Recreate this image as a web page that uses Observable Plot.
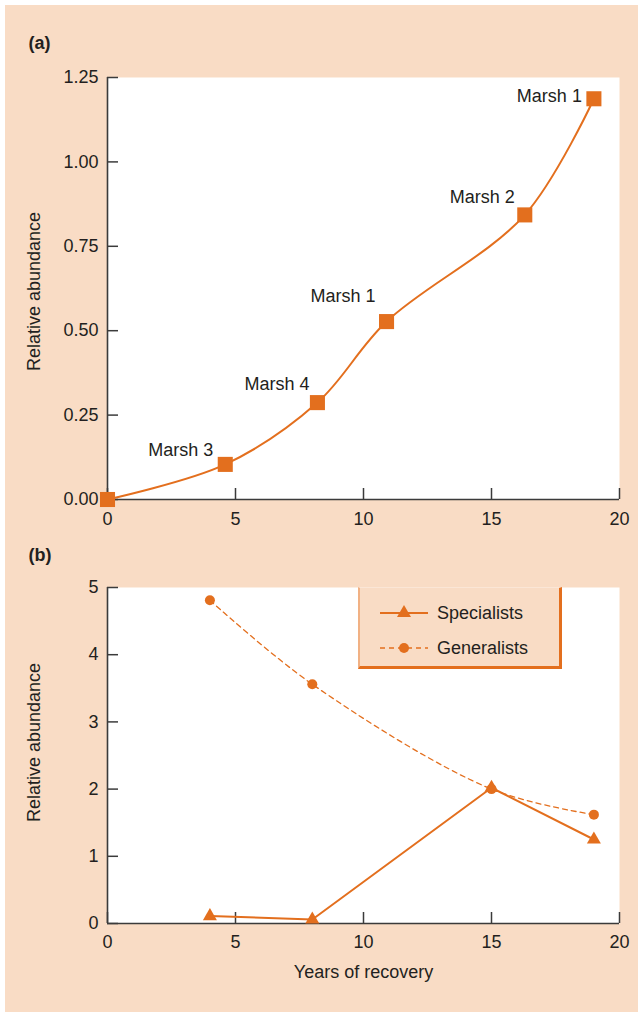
<!DOCTYPE html>
<html>
<head>
<meta charset="utf-8">
<script src="https://cdn.jsdelivr.net/npm/d3@7"></script>
<script src="https://cdn.jsdelivr.net/npm/@observablehq/plot@0.6"></script>
<style>
  body { margin: 0; background: #ffffff; }
  #page { position: relative; width: 638px; height: 1012px; overflow: hidden;
          font-family: "Liberation Sans", Arial, Helvetica, sans-serif; color: #231f20; }
  #bg { position: absolute; left: 5px; top: 5px; right: 0; bottom: 0; background: #f9dcc5; }
  .panel { position: absolute; left: 0; }
  #legend { position: absolute; left: 358px; top: 587px; width: 199px; height: 78px;
            background: #f9dcc5; border-left: 2px solid #f1b184; border-top: 1px solid #fbe6d6;
            border-right: 3px solid #e36f1e; border-bottom: 3px solid #e36f1e; box-sizing: content-box; }
  #legend svg { position: absolute; left: 0; top: 0; }
</style>
</head>
<body>
<div id="page">
  <div id="bg"></div>
  <div id="a" class="panel" style="top:0px"></div>
  <div id="b" class="panel" style="top:540px"></div>
  <div id="legend"></div>
</div>
<script>
// ---------- DATA ----------
// Panel (a): relative abundance of marshes along years of recovery
const marshYears = [0, 4.6, 8.2, 10.9, 16.3, 19.0];
const marshAbundance = [0, 0.104, 0.287, 0.527, 0.843, 1.187];
const marshNames = ["", "Marsh 3", "Marsh 4", "Marsh 1", "Marsh 2", "Marsh 1"];
const xTicks = [0, 5, 10, 15, 20];
const yTicksA = [0, 0.25, 0.5, 0.75, 1.0, 1.25];

// Panel (b): specialists vs generalists
const recoveryYears = [4, 8, 15, 19];
const specialists = [0.11, 0.06, 2.02, 1.25];
const generalists = [4.81, 3.56, 2.0, 1.62];
const yTicksB = [0, 1, 2, 3, 4, 5];
const seriesNames = ["Specialists", "Generalists"];

const xLabel = "Years of recovery";
const yLabel = "Relative abundance";
const panelLetters = ["(a)", "(b)"];

// ---------- STYLE ----------
const FONT = '"Liberation Sans", Arial, Helvetica, sans-serif';
const TEXT = "#231f20";
const AXIS = "#3b3b3b";
const ORANGE = "#e36f1e";

const common = {
  width: 638,
  marginLeft: 107,
  marginRight: 19,
  style: { background: "transparent", fontSize: "18px", fontFamily: FONT, color: TEXT, overflow: "visible" }
};

function axes(yTicks, yFmt, xPad) {
  return [
    Plot.frame({ fill: "white", stroke: "none" }),
    Plot.axisX({ ticks: xTicks, tickSize: 11, dy: -11, fill: "none", stroke: AXIS, strokeWidth: 1.5, label: null }),
    Plot.axisX({ ticks: xTicks, tickSize: 0, tickPadding: xPad, fill: TEXT, label: null, tickFormat: d => String(d), fontSize: 18 }),
    Plot.axisY({ ticks: yTicks, tickSize: 11, dx: 11, fill: "none", stroke: AXIS, strokeWidth: 1.5, label: null }),
    Plot.axisY({ ticks: yTicks, tickSize: 0, tickPadding: 9, fill: TEXT, label: null, tickFormat: yFmt, fontSize: 18 }),
    Plot.ruleX([0], { stroke: AXIS, strokeWidth: 1.6 }),
    Plot.ruleY([0], { stroke: AXIS, strokeWidth: 1.6 })
  ];
}

// ---------- PANEL A ----------
const idxA = d3.range(marshYears.length);
// label placement (layout only): offsets relative to each square
const labelDx = [0, -12, -8, -11, -10, -12];
const labelDy = [0, -14, -18, -25, -18, -3];
const labelMarks = idxA.filter(i => marshNames[i]).map(i =>
  Plot.text([i], { x: j => marshYears[j], y: j => marshAbundance[j], text: j => marshNames[j],
    textAnchor: "end", dx: labelDx[i], dy: labelDy[i], fontSize: 18, fill: TEXT })
);

const plotA = Plot.plot({
  ...common,
  height: 540,
  marginTop: 77,
  marginBottom: 41,
  x: { domain: [0, 20] },
  y: { domain: [0, 1.25] },
  marks: [
    ...axes(yTicksA, d3.format(".2f"), 13),
    Plot.line(idxA, { x: i => marshYears[i], y: i => marshAbundance[i], curve: "catmull-rom", stroke: ORANGE, strokeWidth: 2 }),
    Plot.dot(idxA, { x: i => marshYears[i], y: i => marshAbundance[i], symbol: "square", r: 8.5, fill: ORANGE, stroke: "none" }),
    ...labelMarks,
    Plot.text([yLabel], { frameAnchor: "left", textAnchor: "middle", lineAnchor: "middle", rotate: -90, dx: -73, dy: 3, fontSize: 18, fill: TEXT }),
    Plot.text([panelLetters[0]], { frameAnchor: "top-left", textAnchor: "start", lineAnchor: "middle", dx: -79, dy: -34, fontSize: 18, fontWeight: "bold", fill: TEXT })
  ]
});
document.getElementById("a").appendChild(plotA);

// ---------- PANEL B ----------
const idxB = d3.range(recoveryYears.length);
const plotB = Plot.plot({
  ...common,
  height: 472,
  marginTop: 47,
  marginBottom: 89,
  x: { domain: [0, 20] },
  y: { domain: [0, 5] },
  marks: [
    ...axes(yTicksB, d => String(d), 12),
    Plot.line(idxB, { x: i => recoveryYears[i], y: i => generalists[i], curve: "catmull-rom", stroke: ORANGE, strokeWidth: 1.3, strokeDasharray: "5,4" }),
    Plot.line(idxB, { x: i => recoveryYears[i], y: i => specialists[i], stroke: ORANGE, strokeWidth: 2 }),
    Plot.dot(idxB, { x: i => recoveryYears[i], y: i => generalists[i], symbol: "circle", r: 5, fill: ORANGE, stroke: "none" }),
    Plot.dot(idxB, { x: i => recoveryYears[i], y: i => specialists[i], symbol: "triangle", r: 5.2, fill: ORANGE, stroke: "none" }),
    Plot.text([yLabel], { frameAnchor: "left", textAnchor: "middle", lineAnchor: "middle", rotate: -90, dx: -73, dy: -13, fontSize: 18, fill: TEXT }),
    Plot.text([xLabel], { frameAnchor: "bottom", textAnchor: "middle", lineAnchor: "middle", dy: 49, fontSize: 18, fill: TEXT }),
    Plot.text([panelLetters[1]], { frameAnchor: "top-left", textAnchor: "start", lineAnchor: "middle", dx: -79, dy: -32, fontSize: 18, fontWeight: "bold", fill: TEXT })
  ]
});
document.getElementById("b").appendChild(plotB);

// ---------- LEGEND ----------
const lg = d3.select("#legend").append("svg").attr("width", 200).attr("height", 78)
  .style("font-family", FONT).style("font-size", "18px");
seriesNames.forEach((name, k) => {
  const y = k === 0 ? 25 : 60;
  lg.append("line").attr("x1", 20).attr("x2", 68).attr("y1", y).attr("y2", y)
    .attr("stroke", ORANGE).attr("stroke-width", k === 0 ? 2 : 1.3)
    .attr("stroke-dasharray", k === 0 ? null : "5,4");
  lg.append("path")
    .attr("d", d3.symbol(k === 0 ? d3.symbolTriangle : d3.symbolCircle, k === 0 ? 85 : 78)())
    .attr("transform", `translate(44,${y})`).attr("fill", ORANGE);
  lg.append("text").attr("x", 77).attr("y", y).attr("dy", "0.35em").attr("fill", TEXT).text(name);
});
</script>
</body>
</html>
